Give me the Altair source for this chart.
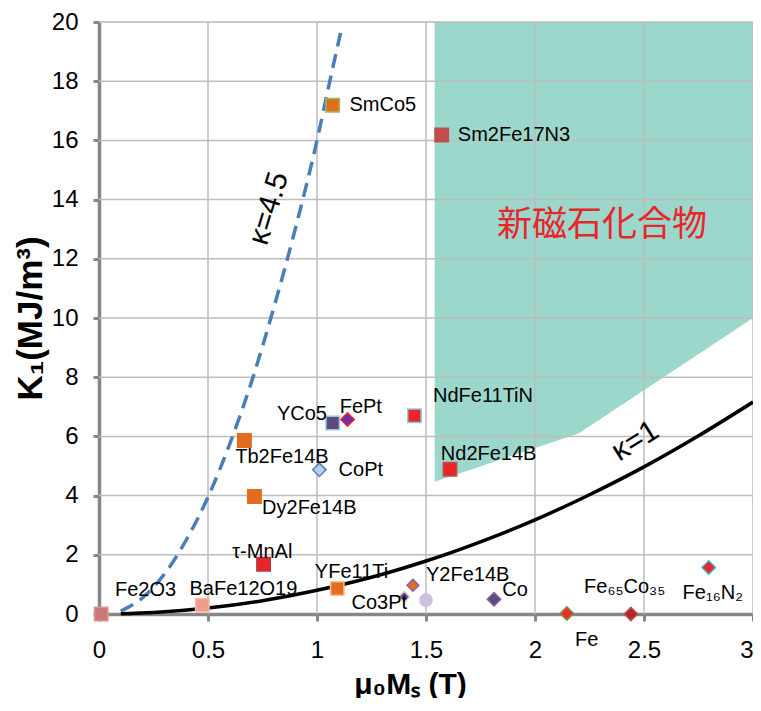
import altair as alt
import pandas as pd

# ---------------- data ----------------
ids = ["Fe2O3", "BaFe12O19", "tMnAl", "YFe11Ti", "Co3Pt", "Y2Fe14B", "circ15",
       "Co", "Fe", "Fe65Co35", "Fe16N2", "Dy2Fe14B", "Tb2Fe14B", "CoPt", "YCo5",
       "FePt", "NdFe11TiN", "Nd2Fe14B", "SmCo5", "Sm2Fe17N3"]
mu0Ms = [0.01, 0.474, 0.755, 1.093, 1.40, 1.44, 1.50,
         1.812, 2.146, 2.44, 2.797, 0.713, 0.667, 1.011, 1.072,
         1.14, 1.447, 1.61, 1.072, 1.572]
K1 = [0.0, 0.3, 1.68, 0.86, 0.58, 0.97, 0.47,
      0.5, 0.02, 0.0, 1.57, 3.97, 5.86, 4.87, 6.45,
      6.57, 6.70, 4.89, 17.19, 16.18]

label_text = ["Fe2O3", "BaFe12O19", "τ-MnAl", "YFe11Ti", "Co3Pt", "Y2Fe14B",
              "Co", "Fe", "Fe₆₅Co₃₅", "Fe₁₆N₂", "Dy2Fe14B", "Tb2Fe14B", "CoPt",
              "YCo5", "FePt", "NdFe11TiN", "Nd2Fe14B", "SmCo5", "Sm2Fe17N3"]
label_x = [0.073, 0.415, 0.611, 0.99, 1.158, 1.50,
           1.85, 2.184, 2.225, 2.677, 0.748, 0.625, 1.099,
           0.816, 1.104, 1.532, 1.568, 1.149, 1.646]
label_y = [0.80, 0.84, 2.11, 1.41, 0.37, 1.31,
           0.80, -0.87, 0.90, 0.70, 3.59, 5.30, 4.87,
           6.74, 7.01, 7.35, 5.40, 17.18, 16.17]

# kappa = 1 curve
k1_x = [0.1, 0.25, 0.5, 0.75, 1.0, 1.25, 1.5, 1.75, 2.0, 2.25, 2.5, 2.75, 3.0]
k1_y = [0.01, 0.05, 0.2, 0.45, 0.8, 1.24, 1.79, 2.44, 3.18, 4.03, 4.97, 6.02, 7.16]
# kappa = 4.5 curve
k45_x = [0.1, 0.2, 0.3, 0.4, 0.5, 0.6, 0.7, 0.8, 0.9, 1.0, 1.05, 1.11]
k45_y = [0.1, 0.55, 1.35, 2.5, 3.95, 5.75, 7.85, 10.3, 13.0, 16.0, 17.7, 19.7]

# new magnet compound region (lower boundary, up to K1 = 20)
region_x = [1.54, 2.2, 3.0]
region_low = [4.47, 6.1, 10.0]
region_top = [20, 20, 20]

x_ticks = [0, 0.5, 1, 1.5, 2, 2.5, 3]
y_ticks = [0, 2, 4, 6, 8, 10, 12, 14, 16, 18, 20]

# ---------------- styles ----------------
shape_of = {"Co3Pt": "diamond", "Y2Fe14B": "diamond", "Co": "diamond", "Fe": "diamond",
            "Fe65Co35": "diamond", "Fe16N2": "diamond", "CoPt": "diamond", "FePt": "diamond",
            "circ15": "circle"}
fill_of = {"Fe2O3": "#CD7878", "BaFe12O19": "#EF9E8A", "tMnAl": "#E8262A",
           "YFe11Ti": "#E46C1E", "Co3Pt": "#7030A0", "Y2Fe14B": "#E46C1E",
           "circ15": "#CCC1DA", "Co": "#604A7B", "Fe": "#F22B2B", "Fe65Co35": "#B3262A",
           "Fe16N2": "#E8262A", "Dy2Fe14B": "#E46C1E", "Tb2Fe14B": "#E46C1E",
           "CoPt": "#B9CDE5", "YCo5": "#5F497A", "FePt": "#7030A0",
           "NdFe11TiN": "#E8262A", "Nd2Fe14B": "#E8262A", "SmCo5": "#E46C1E",
           "Sm2Fe17N3": "#C0504D"}
stroke_of = {"Fe2O3": "#D99594", "BaFe12O19": "#F4B8A8", "tMnAl": "#B03A3A",
             "YFe11Ti": "#F9C08E", "Co3Pt": "#C3D69B", "Y2Fe14B": "#8064A2",
             "circ15": "#CCC1DA", "Co": "#8064A2", "Fe": "#77933C", "Fe65Co35": "#C0504D",
             "Fe16N2": "#4BACC6", "Dy2Fe14B": "#E46C1E", "Tb2Fe14B": "#E46C1E",
             "CoPt": "#4F81BD", "YCo5": "#93CDDD", "FePt": "#E8262A",
             "NdFe11TiN": "#93CDDD", "Nd2Fe14B": "#C0504D", "SmCo5": "#9BBB59",
             "Sm2Fe17N3": "#C0504D"}
size_of = {"Co3Pt": 110, "Y2Fe14B": 140, "circ15": 150}

FONT = "Liberation Sans"

pts = pd.DataFrame({"id": ids, "x": mu0Ms, "y": K1})
pts["shape"] = [shape_of.get(i, "square") for i in ids]
pts["size"] = [size_of.get(i, 180) for i in ids]
labels = pd.DataFrame({"t": label_text, "x": label_x, "y": label_y})
k1 = pd.DataFrame({"x": k1_x, "y": k1_y})
k45 = pd.DataFrame({"x": k45_x, "y": k45_y})
region = pd.DataFrame({"x": region_x, "y": region_low, "y2": region_top})
xg = pd.DataFrame({"x": x_ticks[1:]})
yg = pd.DataFrame({"y": y_ticks[1:]})

xs = alt.Scale(domain=[0, 3], nice=False, zero=False)
ys = alt.Scale(domain=[0, 20], nice=False, zero=False)

xaxis = alt.Axis(values=x_ticks, format=".1~f", grid=False, labelFontSize=24,
                 labelFont=FONT, labelColor="#000000", labelPadding=17,
                 labelFlush=False, labelOverlap=False,
                 labelAlign=alt.ExprRef("datum.value >= 3 ? 'right' : 'center'"),
                 tickSize=7, tickWidth=3, tickColor="#878787",
                 domainColor="#878787", domainWidth=3.5,
                 titleFont=FONT, titleFontSize=30, titleFontWeight="bold",
                 titleColor="#000000", titleX=311, titleY=79,
                 titleAlign="center", titleBaseline="alphabetic", titleAnchor=None)
yaxis = alt.Axis(values=y_ticks, format="d", grid=False, labelFontSize=24,
                 labelFont=FONT, labelColor="#000000", labelPadding=15,
                 labelFlush=False, labelOverlap=False,
                 tickSize=6, tickWidth=3, tickColor="#878787",
                 domainColor="#878787", domainWidth=3.5,
                 titleFont=FONT, titleFontSize=35, titleFontWeight="bold",
                 titleColor="#000000", titleX=-69, titleY=296, titleAngle=270,
                 titleAlign="center", titleBaseline="middle", titleAnchor=None)

X = lambda f="x": alt.X(f"{f}:Q", scale=xs, axis=xaxis, title="μ₀Mₛ (T)")
Y = lambda f="y": alt.Y(f"{f}:Q", scale=ys, axis=yaxis, title="K₁(MJ/m³)")

area = alt.Chart(region).mark_area(color="#9CD7CB", opacity=1).encode(
    x=X(), y=Y(), y2="y2:Q")
gx = alt.Chart(xg).mark_rule(color="#BDBDBD", strokeWidth=1.5).encode(x=X())
gy = alt.Chart(yg).mark_rule(color="#BDBDBD", strokeWidth=1.5).encode(y=Y())

line45 = alt.Chart(k45).mark_line(color="#4A7EBB", strokeWidth=3.5,
                                  strokeDash=[14, 8], interpolate="monotone").encode(x=X(), y=Y())
line1 = alt.Chart(k1).mark_line(color="#000000", strokeWidth=3.5,
                                interpolate="monotone").encode(x=X(), y=Y())

points = alt.Chart(pts).mark_point(filled=True, strokeWidth=1.5, opacity=1).encode(
    x=X(), y=Y(),
    shape=alt.Shape("shape:N", scale=None),
    size=alt.Size("size:Q", scale=None),
    fill=alt.Fill("id:N", scale=alt.Scale(domain=ids, range=[fill_of[i] for i in ids]), legend=None),
    stroke=alt.Stroke("id:N", scale=alt.Scale(domain=ids, range=[stroke_of[i] for i in ids]), legend=None),
)

texts = alt.Chart(labels).mark_text(align="left", baseline="middle", fontSize=20,
                                    font=FONT, color="#000000").encode(
    x=X(), y=Y(), text="t:N")

k_labels = pd.DataFrame({"t": ["κ=4.5"], "x": [0.78], "y": [13.7]})
k1_labels = pd.DataFrame({"t": ["κ=1"], "x": [2.46], "y": [5.84]})
t45 = alt.Chart(k_labels).mark_text(fontSize=30, font=FONT, angle=287, color="#000000",
                                    align="center", baseline="middle").encode(x=X(), y=Y(), text="t:N")
t1 = alt.Chart(k1_labels).mark_text(fontSize=30, font=FONT, angle=328, color="#000000",
                                    align="center", baseline="middle").encode(x=X(), y=Y(), text="t:N")

cn = pd.DataFrame({"t": ["新磁石化合物"], "x": [2.307], "y": [13.15]})
tcn = alt.Chart(cn).mark_text(fontSize=35, font="Noto Sans CJK JP", color="#E8262A",
                              align="center", baseline="middle").encode(x=X(), y=Y(), text="t:N")

chart = alt.layer(area, gx, gy, line45, line1, points, texts, t45, t1, tcn).properties(
    width=654, height=592,
    padding={"left": 91, "top": 14, "right": 0, "bottom": 84},
    autosize=alt.AutoSizeParams(type="none"),
).configure_view(stroke=None).configure(background="white")

chart.save("out.html", embed_options={"renderer": "svg", "actions": False})
